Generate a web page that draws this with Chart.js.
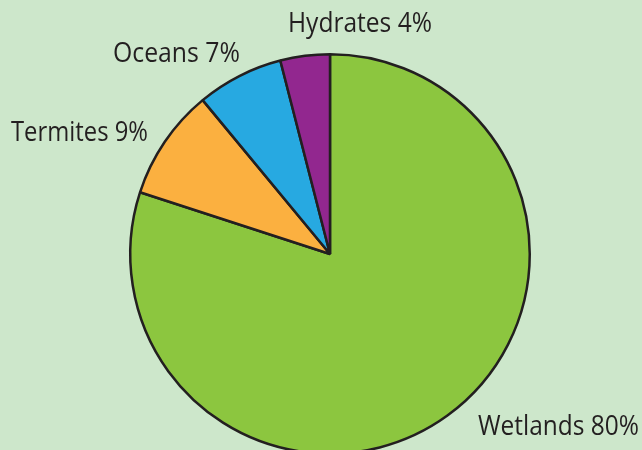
<!DOCTYPE html>
<html>
<head>
<meta charset="utf-8">
<script src="https://cdn.jsdelivr.net/npm/chart.js@4/dist/chart.umd.min.js"></script>
<style>
html,body{margin:0;padding:0;overflow:hidden;background:#cde7cb;width:642px;height:450px;}
canvas{display:block;}
</style>
</head>
<body>
<canvas id="c" width="642" height="460"></canvas>
<script>
const categories = ["Wetlands", "Termites", "Oceans", "Hydrates"];
const values = [80, 9, 7, 4];
const colors = ["#8cc63f", "#fbb040", "#27a9e1", "#92278f"];

// label placement (layout only)
const labelPos = {
  Wetlands: {x: 478, y: 435, w: 161},
  Termites: {x: 11, y: 141, w: 137},
  Oceans:   {x: 113, y: 62, w: 127},
  Hydrates: {x: 288, y: 32, w: 144}
};

const labelPlugin = {
  id: 'outerLabels',
  afterDraw(chart) {
    const ctx = chart.ctx;
    ctx.save();
    ctx.fillStyle = '#231f20';
    ctx.font = '27px "Open Sans", "Noto Sans", sans-serif';
    ctx.textBaseline = 'alphabetic';
    ctx.textAlign = 'left';
    categories.forEach((c, i) => {
      const txt = c + ' ' + values[i] + '%';
      const p = labelPos[c];
      const m = ctx.measureText(txt).width;
      const sx = p.w / m;
      ctx.save();
      ctx.translate(p.x, p.y);
      ctx.scale(sx, 1);
      ctx.fillText(txt, 0, 0);
      ctx.restore();
    });
    ctx.restore();
  }
};

new Chart(document.getElementById('c'), {
  type: 'pie',
  data: {
    labels: categories,
    datasets: [{
      data: values,
      backgroundColor: colors,
      borderColor: '#231f20',
      borderWidth: 2.5,
      hoverOffset: 0
    }]
  },
  options: {
    responsive: false,
    devicePixelRatio: 1,
    animation: false,
    layout: {padding: {left: 129, right: 111, top: 53, bottom: 5}},
    plugins: {legend: {display: false}, tooltip: {enabled: false}}
  },
  plugins: [labelPlugin]
});
</script>
</body>
</html>
